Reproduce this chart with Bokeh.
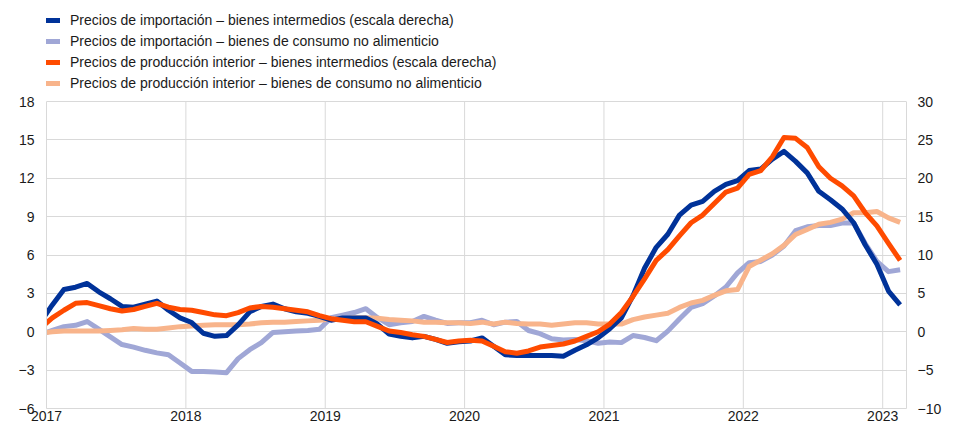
from bokeh.plotting import figure
from bokeh.models import Range1d, LinearAxis, FixedTicker, Legend, LegendItem
from bokeh.embed import file_html
from bokeh.resources import INLINE

# Monthly observations, Dec 2016 .. Feb 2023 (plotted at mid-month)
year_labels = ["2017", "2018", "2019", "2020", "2021", "2022", "2023"]
year_ticks = [0, 12, 24, 36, 48, 60, 72]          # month index of each January
left_ticks = [-6, -3, 0, 3, 6, 9, 12, 15, 18]
right_ticks = [-10, -5, 0, 5, 10, 15, 20, 25, 30]
n_months = 75

# Right scale (escala derecha)
imp_intermedios = [
    1.3,
    3.5, 5.5, 5.8, 6.3, 5.2, 4.3, 3.3, 3.2, 3.6, 4.0, 2.8, 1.8,
    1.2, -0.2, -0.6, -0.5, 0.9, 2.6, 3.3, 3.6, 3.0, 2.6, 2.4, 2.0,
    1.5, 1.8, 1.8, 1.8, 1.0, -0.3, -0.6, -0.8, -0.6, -1.0, -1.5, -1.3,
    -1.2, -0.8, -1.9, -3.0, -3.1, -3.1, -3.1, -3.1, -3.2, -2.4, -1.7, -0.8,
    0.4, 1.8, 4.7, 8.3, 11.0, 12.7, 15.2, 16.5, 17.0, 18.3, 19.2, 19.7,
    21.0, 21.2, 22.5, 23.5, 22.2, 20.7, 18.3, 17.2, 16.0, 14.2, 11.3, 8.8,
    5.3, 3.5,
]
prod_intermedios = [
    0.5,
    1.8, 2.8, 3.7, 3.8, 3.4, 3.0, 2.7, 2.9, 3.3, 3.7, 3.2, 2.9,
    2.8, 2.5, 2.2, 2.1, 2.5, 3.1, 3.3, 3.2, 3.0, 2.8, 2.6, 2.1,
    1.7, 1.5, 1.3, 1.3, 0.7, 0.1, -0.1, -0.4, -0.6, -1.0, -1.4, -1.2,
    -1.1, -1.2, -1.9, -2.6, -2.8, -2.5, -2.0, -1.8, -1.6, -1.2, -0.6, 0.0,
    1.0, 2.5, 4.6, 6.9, 9.3, 10.7, 12.5, 14.2, 15.2, 16.7, 18.2, 18.7,
    20.5, 21.0, 22.8, 25.3, 25.2, 24.0, 21.5, 20.0, 19.0, 17.7, 15.5, 13.8,
    11.5, 9.3,
]
# Left scale
imp_consumo = [
    -0.2,
    0.1, 0.4, 0.5, 0.8, 0.2, -0.4, -1.0, -1.2, -1.45, -1.65, -1.8, -2.45,
    -3.1, -3.1, -3.15, -3.2, -2.1, -1.4, -0.85, -0.05, 0.0, 0.05, 0.1, 0.2,
    1.1, 1.3, 1.5, 1.8, 1.1, 0.55, 0.7, 0.8, 1.2, 0.9, 0.65, 0.7,
    0.7, 0.9, 0.55, 0.75, 0.8, 0.1, -0.15, -0.55, -0.65, -0.6, -0.7, -0.9,
    -0.8, -0.85, -0.3, -0.45, -0.7, 0.05, 1.0, 1.9, 2.2, 2.8, 3.5, 4.6,
    5.4, 5.5, 6.0, 6.7, 7.9, 8.2, 8.3, 8.3, 8.5, 8.5, 6.9, 5.5,
    4.7, 4.85,
]
prod_consumo = [
    -0.1,
    0.0, 0.05, 0.05, 0.05, 0.05, 0.1, 0.15, 0.25, 0.2, 0.2, 0.3, 0.4,
    0.45, 0.5, 0.55, 0.55, 0.55, 0.6, 0.7, 0.75, 0.75, 0.8, 0.85, 0.9,
    1.0, 1.0, 1.1, 1.1, 1.05, 0.95, 0.9, 0.85, 0.75, 0.75, 0.7, 0.7,
    0.65, 0.75, 0.6, 0.75, 0.65, 0.6, 0.6, 0.5, 0.6, 0.7, 0.7, 0.6,
    0.6, 0.6, 0.95, 1.15, 1.3, 1.45, 1.9, 2.25, 2.45, 2.85, 3.2, 3.3,
    5.1, 5.6, 6.1, 6.75, 7.6, 8.0, 8.4, 8.55, 8.8, 9.3, 9.3, 9.4,
    8.9, 8.55,
]

x = [i - 0.5 for i in range(n_months)]  # month index (Jan 2017 = 0), mid-month

FONT = "Liberation Sans"
DARK_BLUE = "#003299"
LIGHT_BLUE = "#a0a7d6"
ORANGE = "#ff4b00"
LIGHT_ORANGE = "#f8b48b"
GRID = "#d9d9d9"
TEXT = "#1a1a1a"

# layout (pixels)
W, H = 944, 428
BORDER_BOTTOM = 20
FRAME_H = H - BORDER_BOTTOM          # frame starts at the top of the canvas
LEGEND_SPACE = 101                   # space above the 18 / 30 gridline
PLOT_H = FRAME_H - LEGEND_SPACE

lmin, lmax = left_ticks[0], left_ticks[-1]
rmin, rmax = right_ticks[0], right_ticks[-1]
ltop = lmax + (lmax - lmin) * LEGEND_SPACE / PLOT_H
rtop = rmax + (rmax - rmin) * LEGEND_SPACE / PLOT_H

p = figure(width=W, height=H, output_backend="svg", toolbar_location=None,
           x_range=Range1d(0, 74.05), y_range=Range1d(lmin, ltop),
           min_border_left=46, min_border_right=20, min_border_top=0,
           min_border_bottom=BORDER_BOTTOM)
p.extra_y_ranges = {"right": Range1d(rmin, rtop)}
p.outline_line_color = None
p.background_fill_color = "white"

# vertical year gridlines limited to the value area
p.segment(x0=year_ticks, y0=[lmin] * len(year_ticks), x1=year_ticks,
          y1=[lmax] * len(year_ticks), line_color=GRID, line_width=1)

r_lb = p.line(x, imp_consumo, line_color=LIGHT_BLUE, line_width=5, line_join="round")
r_lo = p.line(x, prod_consumo, line_color=LIGHT_ORANGE, line_width=5, line_join="round")
r_db = p.line(x, imp_intermedios, line_color=DARK_BLUE, line_width=5, line_join="round",
              y_range_name="right")
r_or = p.line(x, prod_intermedios, line_color=ORANGE, line_width=5, line_join="round",
              y_range_name="right")

# axes
p.xaxis.ticker = FixedTicker(ticks=year_ticks)
p.xaxis.major_label_overrides = {t: lab for t, lab in zip(year_ticks, year_labels)}
p.yaxis.ticker = FixedTicker(ticks=left_ticks)
p.yaxis.bounds = (lmin, lmax)

right_axis = LinearAxis(y_range_name="right", ticker=FixedTicker(ticks=right_ticks),
                        bounds=(rmin, rmax))
p.add_layout(right_axis, "right")

for ax in [p.xaxis[0], p.yaxis[0], right_axis]:
    ax.axis_line_color = GRID
    ax.axis_line_width = 1
    ax.major_tick_line_color = None
    ax.minor_tick_line_color = None
    ax.major_tick_out = 0
    ax.major_tick_in = 0
    ax.minor_tick_out = 0
    ax.minor_tick_in = 0
    ax.axis_label_standoff = 0
    ax.major_label_text_font = FONT
    ax.major_label_text_font_size = "14px"
    ax.major_label_text_color = TEXT
p.yaxis[0].major_label_standoff = 12
right_axis.major_label_standoff = 11
p.xaxis[0].major_label_standoff = 2

p.xgrid.grid_line_color = None
p.ygrid.grid_line_color = GRID
p.ygrid.grid_line_width = 1

legend = Legend(items=[
    LegendItem(label="Precios de importación – bienes intermedios (escala derecha)", renderers=[r_db]),
    LegendItem(label="Precios de importación – bienes de consumo no alimenticio", renderers=[r_lb]),
    LegendItem(label="Precios de producción interior – bienes intermedios (escala derecha)", renderers=[r_or]),
    LegendItem(label="Precios de producción interior – bienes de consumo no alimenticio", renderers=[r_lo]),
], location=(-1, FRAME_H - 93), orientation="vertical")
legend.label_text_font = FONT
legend.label_text_font_size = "14px"
legend.label_text_color = TEXT
legend.glyph_width = 15
legend.glyph_height = 20
legend.label_height = 20
legend.label_standoff = 10
legend.spacing = 1
legend.padding = 0
legend.margin = 0
legend.border_line_color = None
legend.background_fill_alpha = 0
p.add_layout(legend, "center")

open("out.html", "w").write(file_html(p, INLINE))
